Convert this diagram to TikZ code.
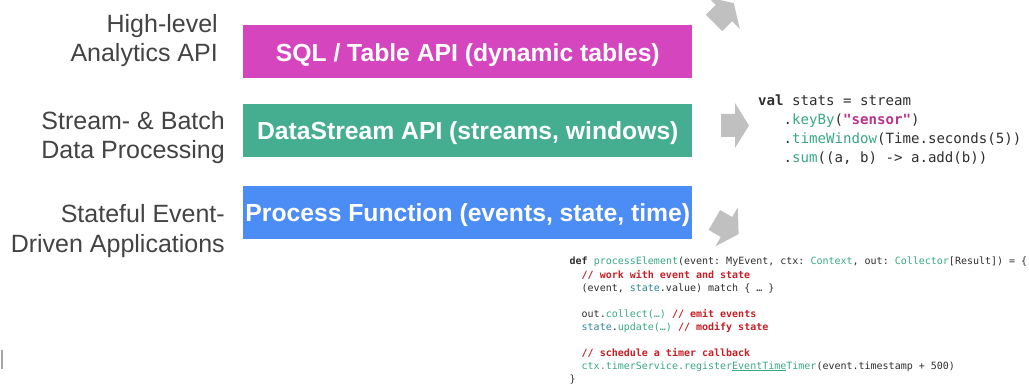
\documentclass[tikz,border=0pt]{standalone}
\usepackage{fontspec}
\setmainfont{Liberation Sans}
\setmonofont{DejaVu Sans Mono}
\usepackage{xcolor}

\definecolor{labelgray}{HTML}{434343}
\definecolor{sqlpink}{HTML}{D545BE}
\definecolor{dsgreen}{HTML}{45AE91}
\definecolor{pfblue}{HTML}{4B8CF5}
\definecolor{arrowgray}{HTML}{C0C0C0}
\definecolor{codedark}{HTML}{2E2E2E}
\definecolor{codeteal}{HTML}{38A883}
\definecolor{codemag}{HTML}{B8338A}
\definecolor{codestate}{HTML}{2F8398}
\definecolor{codered}{HTML}{C71F26}

\begin{document}
\begin{tikzpicture}[x=1pt, y=-1pt,
  lbl/.style={anchor=base east, inner sep=0pt, text=labelgray,
    font=\fontsize{25}{29}\selectfont},
  apibox/.style={rectangle, inner sep=0pt, minimum width=449pt,
    minimum height=53pt, text height=20pt, text depth=1pt, text=white,
    font=\fontsize{24.7}{29}\selectfont\bfseries},
  scalacode/.style={anchor=base west, inner sep=0pt, text=codedark,
    font=\fontsize{14.1}{18}\selectfont\ttfamily},
  javacode/.style={anchor=base west, inner sep=0pt, text=codedark,
    font=\fontsize{10}{13}\selectfont\ttfamily},
  pics/blockarrow/.style={code={
    \fill[arrowgray] (0,-11.5) -- (14,-11.5) -- (14,-22.5) -- (28,0)
      -- (14,22.5) -- (14,11.5) -- (0,11.5) -- cycle;}}
]
\useasboundingbox (0,0) rectangle (1029,385);
\clip (0,0) rectangle (1029,385);

% layer labels
\node[lbl] (hl1) at (218,33) {High-level};
\node[lbl] (hl2) at (218,62) {Analytics API};
\node[lbl] (sb1) at (225,129.5) {Stream- \& Batch};
\node[lbl] (sb2) at (225,158.5) {Data Processing};
\node[lbl] (se1) at (225,222.5) {Stateful Event-};
\node[lbl] (se2) at (225,252.5) {Driven Applications};

% API layers
\node[apibox, fill=sqlpink] (sql) at (467.8,51.7) {SQL / Table API (dynamic tables)};
\node[apibox, fill=dsgreen] (ds) at (467.8,130.4) {DataStream API (streams, windows)};
\node[apibox, fill=pfblue] (pf) at (467.8,212.4) {Process Function (events, state, time)};

% block arrows
\pic[rotate=45] at (714,23) {blockarrow};
\pic at (721,125.5) {blockarrow};
\pic[rotate=-30] at (714.4,220) {blockarrow};

% DataStream example
\node[scalacode] (s1) at (758,106) {\textbf{val} stats = stream};
\node[scalacode] (s2) at (783.5,124.7) {.\textcolor{codeteal}{keyBy}(\textcolor{codemag}{\textbf{"sensor"}})};
\node[scalacode] (s3) at (783.5,143.4) {.\textcolor{codeteal}{timeWindow}(Time.seconds(5))};
\node[scalacode] (s4) at (783.5,162.1) {.\textcolor{codeteal}{sum}((a, b) -> a.add(b))};

% ProcessFunction example
\node[javacode] (p1) at (569.5,265) {\textbf{def} \textcolor{codeteal}{processElement}(event: MyEvent, ctx: \textcolor{codeteal}{Context}, out: \textcolor{codeteal}{Collector}[Result]) = \{};
\node[javacode] (p2) at (581.5,278) {\textcolor{codered}{\textbf{// work with event and state}}};
\node[javacode] (p3) at (581.5,291) {(event, \textcolor{codestate}{state}.value) match \{ … \}};
\node[javacode] (p5) at (581.5,317) {out.\textcolor{codeteal}{collect(…)} \textcolor{codered}{\textbf{// emit events}}};
\node[javacode] (p6) at (581.5,330) {\textcolor{codestate}{state}.\textcolor{codeteal}{update(…)} \textcolor{codered}{\textbf{// modify state}}};
\node[javacode] (p8) at (581.5,356) {\textcolor{codered}{\textbf{// schedule a timer callback}}};
\node[javacode] (p9) at (581.5,369) {\textcolor{codeteal}{ctx.timerService.register\underline{EventTime}Timer}(event.timestamp + 500)};
\node[javacode] (p10) at (569.5,382) {\}};

% text cursor mark
\draw[gray!70, line width=1.2pt] (2,350) -- (2,369);
\end{tikzpicture}
\end{document}
